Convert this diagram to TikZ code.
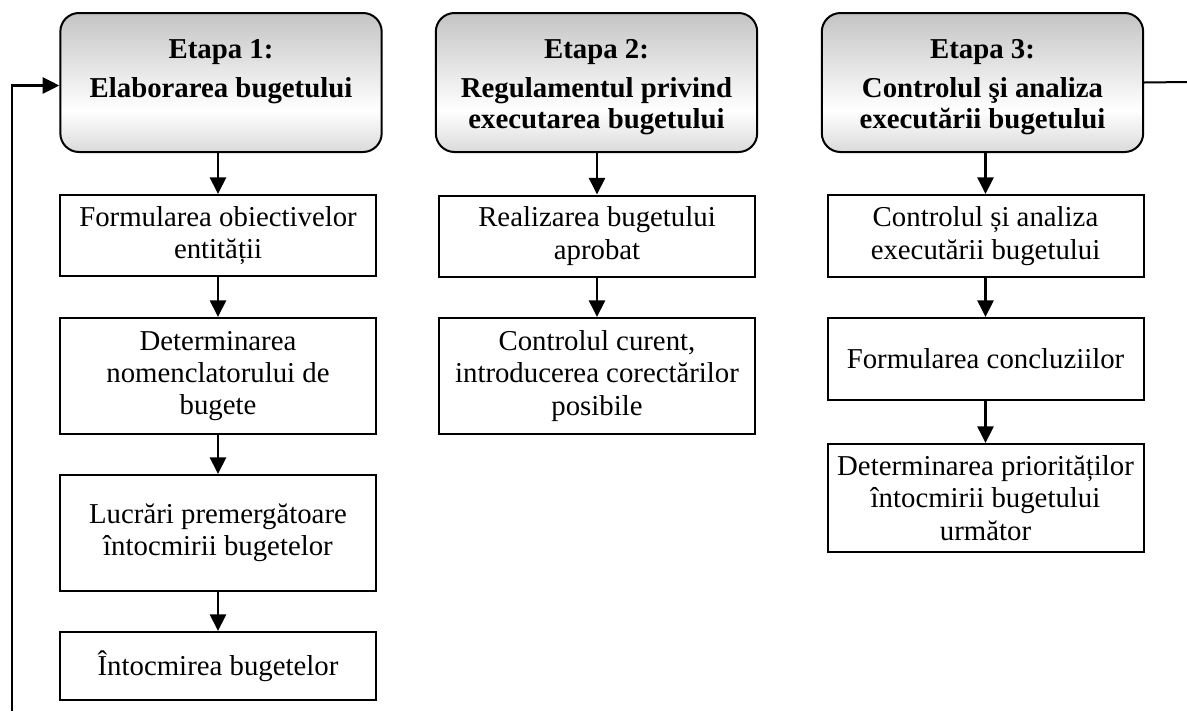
\documentclass[tikz,border=0pt]{standalone}
\usepackage{fontspec}
\setmainfont{Liberation Serif}
\usepackage{tikz}
\usetikzlibrary{arrows.meta,positioning,calc}
\definecolor{hdrtop}{RGB}{196,196,196}
\definecolor{hdrbot}{RGB}{218,218,218}
\pgfdeclareverticalshading{hdrgrad}{100bp}{color(0bp)=(hdrbot); color(25bp)=(hdrbot); color(40bp)=(white); color(75bp)=(hdrtop); color(100bp)=(hdrtop)}
\tikzset{
  hdr/.style={draw,line width=1.5pt,rounded corners=14pt,shading=hdrgrad,minimum width=241pt,minimum height=104.25pt,inner sep=0pt},
  htxt/.style={font=\fontsize{21.6}{23}\selectfont\bfseries,align=center,inner sep=0pt,anchor=north},
  box/.style={draw,line width=1.5pt,align=center,font=\fontsize{21.6}{24.3}\selectfont,minimum width=237pt,inner sep=2pt},
  arr/.style={-{Triangle[length=12.5pt,width=12pt]},line width=2pt},
  fb/.style={line width=1.5pt}
}
\begin{document}
\begin{tikzpicture}[x=0.75pt,y=-0.75pt]
\useasboundingbox (0,0) rectangle (1187,711);
% header boxes
\node[hdr] (h1) at (221,82.5) {};
\node[hdr] (h2) at (596.5,82.5) {};
\node[hdr] (h3) at (982.5,82.5) {};
\node[htxt] (t1) at ($(h1.north)+(0,27)$) {Etapa 1:\\[6.5pt]Elaborarea bugetului};
\node[htxt] (t2) at ($(h2.north)+(0,27)$) {Etapa 2:\\[6.5pt]Regulamentul privind\\executarea bugetului};
\node[htxt] (t3) at ($(h3.north)+(0,27)$) {Etapa 3:\\[6.5pt]Controlul şi analiza\\executării bugetului};
% column 1
\node[box,minimum height=60.75pt] (b11) at (218,235.5) {Formularea obiectivelor\\entității};
\node[box,minimum height=87pt] (b12) at (218,376) {Determinarea\\nomenclatorului de\\bugete};
\node[box,minimum height=87pt] (b13) at (218,533) {Lucrări premergătoare\\întocmirii bugetelor};
\node[box,minimum height=51pt] (b14) at (218,666) {Întocmirea bugetelor};
% column 2
\node[box,minimum height=60.75pt] (b21) at (597,236) {Realizarea bugetului\\aprobat};
\node[box,minimum height=87pt] (b22) at (597,376) {Controlul curent,\\introducerea corectărilor\\posibile};
% column 3
\node[box,minimum height=61.5pt] (b31) at (985.5,236) {Controlul și analiza\\executării bugetului};
\node[box,minimum height=61.5pt] (b32) at (985.5,359) {Formularea concluziilor};
\node[box,minimum height=81pt] (b33) at (985.5,498) {Determinarea priorităților\\întocmirii bugetului\\următor};
\foreach \a/\b in {h1/b11,b11/b12,b12/b13,b13/b14,h2/b21,b21/b22,h3/b31,b31/b32,b32/b33}
  \draw[arr] (\a.south -| \b) -- (\b.north);
% feedback loop
\coordinate (fbin) at (12,711);
\coordinate (fbout) at (1187,82);
\draw[arr] (fbin) |- ($(h1.west)+(0,3)$);
\draw[fb] (h3.east) -- (fbout);
\end{tikzpicture}
\end{document}
